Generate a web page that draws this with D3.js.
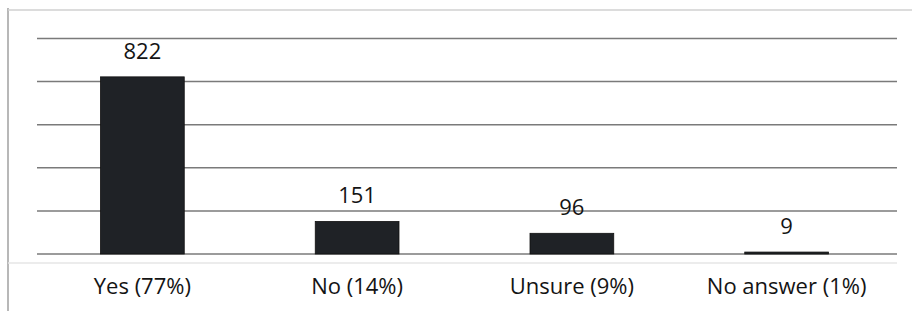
<!DOCTYPE html>
<html>
<head>
<meta charset="utf-8">
<script src="https://cdn.jsdelivr.net/npm/d3@7"></script>
<style>
  body { margin: 0; background: #fff; }
  svg { display: block; font-family: "Open Sans", sans-serif; }
</style>
</head>
<body>
<div id="chart"></div>
<script>
const categories = ["Yes (77%)", "No (14%)", "Unsure (9%)", "No answer (1%)"];
const counts = [822, 151, 96, 9];
const yTicks = [0, 200, 400, 600, 800, 1000];

const width = 912,
  height = 311,
  margin = ({ top: 38.5, right: 15, bottom: 57, left: 37 });

const svg = d3.select("#chart")
  .append("svg")
  .attr("width", width)
  .attr("height", height);

// outer frame
svg.append("line")
  .attr("x1", 8).attr("x2", 8)
  .attr("y1", 8).attr("y2", height)
  .attr("stroke", "#a0a0a0").attr("stroke-width", 1.5);
svg.append("line")
  .attr("x1", 8).attr("x2", width)
  .attr("y1", 10).attr("y2", 10)
  .attr("stroke", "#d0d0d0").attr("stroke-width", 1.5);

const x = d3.scaleBand()
  .domain(categories)
  .range([margin.left - 2, width - margin.right - 3])
  .paddingInner(0.61)
  .paddingOuter(0.305);

const y = d3.scaleLinear()
  .domain([0, 1000])
  .range([height - margin.bottom, margin.top]);

// gridlines
svg.append("g")
  .selectAll("line")
  .data(yTicks)
  .join("line")
  .attr("x1", margin.left)
  .attr("x2", width - margin.right)
  .attr("y1", d => y(d))
  .attr("y2", d => y(d))
  .attr("stroke", "#7a7a7a")
  .attr("stroke-width", 1.5);

// faint line under the axis
svg.append("line")
  .attr("x1", 8).attr("x2", width - margin.right)
  .attr("y1", y(0) + 9).attr("y2", y(0) + 9)
  .attr("stroke", "#e6e6e6").attr("stroke-width", 1.5);

const g = svg.append("g")
  .selectAll("g")
  .data(categories.map((c, i) => ({ c, v: counts[i] })))
  .join("g");

g.append("rect")
  .attr("x", d => x(d.c))
  .attr("y", d => y(d.v))
  .attr("width", x.bandwidth())
  .attr("height", d => y(0) - y(d.v))
  .attr("fill", "#1f2226")
  .attr("stroke", "#111")
  .attr("stroke-width", 0.8);

g.append("text")
  .text(d => d.v)
  .attr("x", d => x(d.c) + x.bandwidth() / 2)
  .attr("y", d => y(d.v) - 18)
  .attr("text-anchor", "middle")
  .attr("font-size", 22)
  .attr("fill", "#141414");

// category axis
const xAxis = svg.append("g")
  .attr("transform", `translate(0,${y(0)})`)
  .call(d3.axisBottom(x).tickSize(0).tickPadding(24));
xAxis.select(".domain").remove();
xAxis.selectAll("text")
  .attr("font-size", 22)
  .attr("font-family", "Open Sans, sans-serif")
  .attr("fill", "#141414");
</script>
</body>
</html>
